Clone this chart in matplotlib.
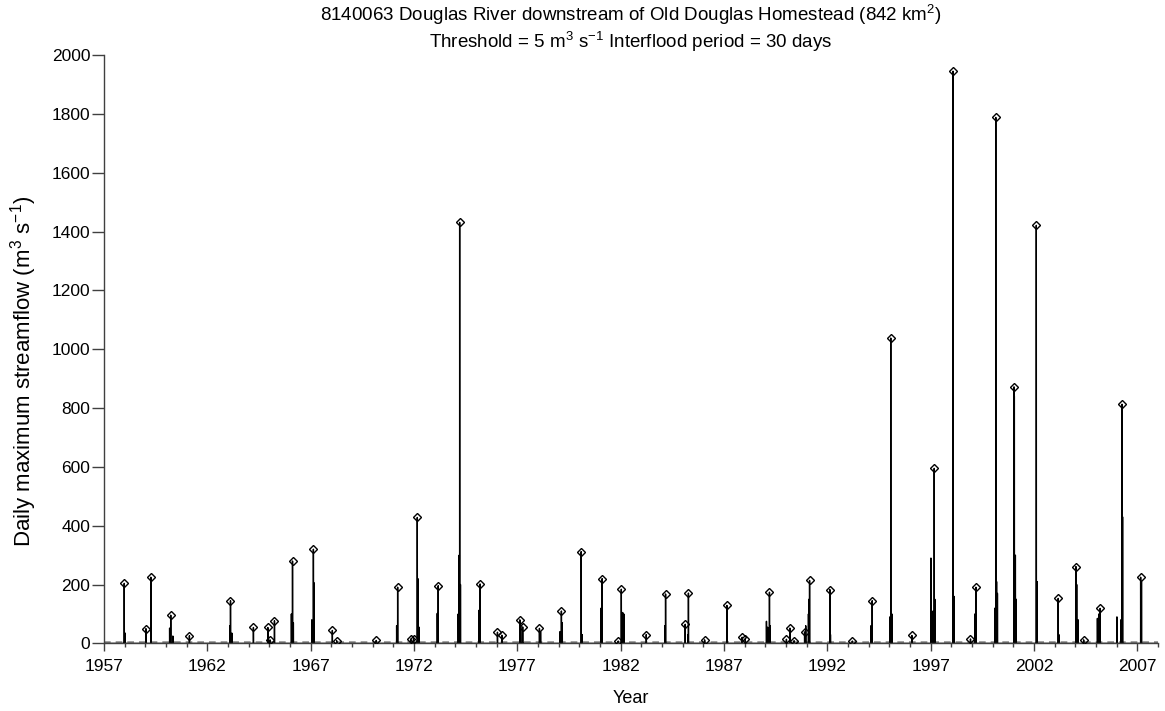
"""Douglas River daily maximum streamflow with flood peaks over threshold"""

import matplotlib
matplotlib.use("Agg")

import matplotlib.pyplot as plt
import matplotlib.dates as mdates
from matplotlib.ticker import FixedLocator
import numpy as np
import pandas as pd

# peaks over threshold (diamond markers)
peak_dates = [
    "1957-12-24", "1959-01-12", "1959-04-08", "1960-03-25", "1961-02-18",
    "1963-02-14", "1964-03-25", "1964-12-05", "1965-01-12", "1965-04-01",
    "1966-02-14", "1967-02-18", "1968-01-19", "1968-04-05", "1970-03-04",
    "1971-03-18", "1971-11-03", "1971-12-24", "1972-02-28", "1973-03-04",
    "1974-03-18", "1975-03-14", "1976-01-15", "1976-04-01", "1977-02-14",
    "1977-04-05", "1978-01-26", "1979-02-18", "1980-02-03", "1981-02-07",
    "1981-11-18", "1982-01-12", "1983-03-29", "1984-03-04", "1985-02-14",
    "1985-04-12", "1986-01-23", "1987-02-21", "1987-11-18", "1988-01-12",
    "1989-03-14", "1990-01-08", "1990-03-11", "1990-05-23", "1990-11-25",
    "1991-02-21", "1992-02-14", "1993-03-18", "1994-03-04", "1995-01-26",
    "1996-02-03", "1997-03-04", "1998-01-30", "1998-12-05", "1999-03-11",
    "2000-02-25", "2001-01-12", "2002-02-10", "2003-03-04", "2004-01-12",
    "2004-05-27", "2005-03-14", "2006-04-05", "2007-02-28",
]
peak_flows = [
    204, 50, 225, 96, 26,
    145, 54, 54, 12, 77,
    280, 320, 44, 9, 10,
    191, 14, 16, 428, 196,
    1431, 202, 38, 28, 80,
    56, 51, 110, 312, 220,
    8, 184, 30, 168, 65,
    171, 12, 129, 21, 15,
    174, 14, 52, 9, 39,
    214, 183, 8, 145, 1038,
    27, 595, 1945, 15, 191,
    1788, 872, 1421, 153, 261,
    12, 119, 813, 225,
]

# other high days of the daily record (not marked as peaks)
other_dates = [
    "1958-01-10", "1960-03-05", "1960-05-01", "1963-02-01", "1963-03-10",
    "1966-01-25", "1966-03-01", "1967-01-20", "1967-03-01", "1971-02-28",
    "1972-03-10", "1972-04-01", "1973-02-15", "1974-02-20", "1974-03-10",
    "1974-04-01", "1975-02-25", "1977-03-01", "1978-02-15", "1979-01-25",
    "1979-03-05", "1980-02-20", "1981-01-20", "1982-02-05", "1982-02-25",
    "1984-02-20", "1985-04-01", "1989-01-20", "1989-02-10", "1989-03-25",
    "1990-12-15", "1991-02-01", "1991-02-10", "1992-02-25", "1994-02-10",
    "1994-02-25", "1995-01-10", "1995-02-15", "1997-01-05", "1997-02-10",
    "1997-03-15", "1998-02-15", "1999-02-20", "2000-02-10", "2000-03-10",
    "2000-03-25", "2001-01-18", "2001-02-05", "2001-02-20", "2002-02-25",
    "2003-03-15", "2004-01-25", "2004-02-20", "2005-01-25", "2005-02-20",
    "2006-01-05", "2006-03-15", "2006-04-15", "2007-03-15",
]
other_flows = [
    35, 52, 25, 60, 35,
    100, 70, 80, 206, 60,
    220, 55, 102, 100, 300,
    200, 113, 60, 40, 40,
    70, 30, 120, 105, 100,
    60, 30, 75, 55, 60,
    60, 100, 150, 30, 60,
    45, 90, 100, 290, 110,
    150, 160, 100, 120, 210,
    170, 840, 300, 150, 210,
    30, 200, 80, 85, 100,
    90, 80, 430, 210,
]

threshold = 5
tick_years = [1957, 1962, 1967, 1972, 1977, 1982, 1987, 1992, 1997, 2002, 2007]

plt.rcParams["font.family"] = ["Liberation Sans", "DejaVu Sans"]
plt.rcParams["mathtext.fontset"] = "custom"
plt.rcParams["mathtext.rm"] = "Liberation Sans"
plt.rcParams["mathtext.it"] = "Liberation Sans:italic"
plt.rcParams["mathtext.bf"] = "Liberation Sans:bold"

# daily record: dry-season flow near zero, with the high days placed on it
days = pd.date_range("1957-01-01", "2007-12-31", freq="D")
flow = pd.Series(0.0, index=days)
flow[pd.to_datetime(other_dates)] = other_flows
flow[pd.to_datetime(peak_dates)] = peak_flows

fig = plt.figure(figsize=(11.65, 7.11), dpi=100)
ax = fig.add_axes([0.0893, 0.0951, 0.9047, 0.8275])

axis_col = "#404040"
ax.axhline(threshold, color="#909090", lw=1.2, ls=(0, (4, 3)), zorder=1)
ax.plot(flow.index, flow.values, color="black", lw=1.0, zorder=2)
ax.plot(pd.to_datetime(peak_dates), peak_flows, ls="none", marker="D",
        ms=4.3, mfc="none", mec="black", mew=1.0, zorder=3)

ax.set_xlim(pd.Timestamp("1957-01-01"), pd.Timestamp("2008-01-01"))
ax.set_ylim(0, 2000)

major = [mdates.date2num(pd.Timestamp(f"{y}-01-01")) for y in tick_years]
minor = [mdates.date2num(pd.Timestamp(f"{y}-01-01")) for y in range(1957, 2009)]
ax.xaxis.set_major_locator(FixedLocator(major))
ax.xaxis.set_minor_locator(FixedLocator(minor))
ax.set_xticklabels([str(y) for y in tick_years])
ax.set_yticks(np.arange(0, 2001, 200))

for side in ["top", "right"]:
    ax.spines[side].set_visible(False)
for side in ["left", "bottom"]:
    ax.spines[side].set_color(axis_col)
    ax.spines[side].set_linewidth(1.0)

ax.tick_params(axis="x", which="major", length=6, width=1, color=axis_col,
               labelsize=12.5, pad=5)
ax.tick_params(axis="x", which="minor", length=3, width=1, color=axis_col)
ax.tick_params(axis="y", length=9, width=1, color=axis_col, labelsize=12.5, pad=1)

ax.set_xlabel("Year", fontsize=13, labelpad=12)
ax.set_ylabel(r"Daily maximum streamflow (m$^3$ s$^{-1}$)", fontsize=16)
ax.yaxis.set_label_coords(-0.062, 0.463)
ax.set_title("8140063 Douglas River downstream of Old Douglas Homestead (842 km$^2$)\n"
             r"Threshold = 5 m$^3$ s$^{-1}$ Interflood period = 30 days",
             fontsize=13.5, pad=5, linespacing=1.15)

fig.savefig("out.png", dpi=100)
plt.close(fig)
